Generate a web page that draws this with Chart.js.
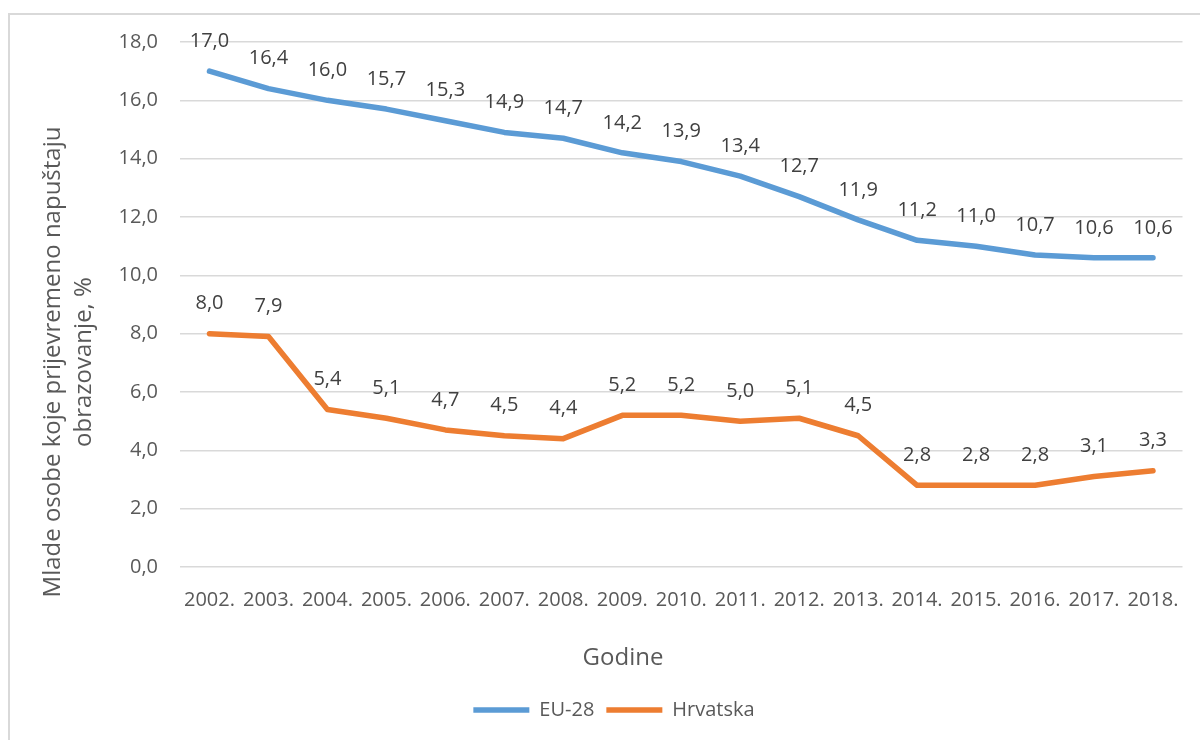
<!DOCTYPE html>
<html>
<head>
<meta charset="utf-8">
<script src="https://cdn.jsdelivr.net/npm/chart.js@4.4.1/dist/chart.umd.min.js"></script>
<style>
  html, body { margin: 0; padding: 0; background: #fff; }
  #wrap { width: 1200px; height: 740px; position: relative; }
</style>
</head>
<body>
<div id="wrap"><canvas id="chart" width="1200" height="740"></canvas></div>
<script>
// data
const years = ["2002.", "2003.", "2004.", "2005.", "2006.", "2007.", "2008.", "2009.", "2010.",
  "2011.", "2012.", "2013.", "2014.", "2015.", "2016.", "2017.", "2018."];
const eu28 = [17.0, 16.4, 16.0, 15.7, 15.3, 14.9, 14.7, 14.2, 13.9, 13.4, 12.7, 11.9, 11.2, 11.0, 10.7, 10.6, 10.6];
const hrvatska = [8.0, 7.9, 5.4, 5.1, 4.7, 4.5, 4.4, 5.2, 5.2, 5.0, 5.1, 4.5, 2.8, 2.8, 2.8, 3.1, 3.3];
const yTitleLines = ["Mlade osobe koje prijevremeno napuštaju", "obrazovanje, %"];
const xTitle = "Godine";

const FONT = '"Open Sans", "Liberation Sans", sans-serif';

function comma(v) {
  return Number(v).toFixed(1).replace(".", ",");
}

// light grey frame around the whole chart, like the Excel chart area
const framePlugin = {
  id: "frame",
  beforeDraw(chart) {
    const ctx = chart.ctx;
    ctx.save();
    ctx.fillStyle = "#ffffff";
    ctx.fillRect(0, 0, chart.width, chart.height);
    ctx.strokeStyle = "#d9d9d9";
    ctx.lineWidth = 2;
    ctx.strokeRect(9, 14, chart.width + 20, chart.height + 20);
    ctx.restore();
  }
};

// value labels above each point
const valueLabels = {
  id: "valueLabels",
  afterDatasetsDraw(chart) {
    const ctx = chart.ctx;
    ctx.save();
    ctx.font = "20px " + FONT;
    ctx.fillStyle = "#404040";
    ctx.textAlign = "center";
    ctx.textBaseline = "middle";
    chart.data.datasets.forEach((ds, i) => {
      chart.getDatasetMeta(i).data.forEach((pt, j) => {
        ctx.fillText(comma(ds.data[j]), pt.x, pt.y - 30);
      });
    });
    ctx.restore();
  }
};

// axis titles: Excel puts them off the plot centre, so they are drawn here
const axisTitles = {
  id: "axisTitles",
  afterDraw(chart) {
    const ctx = chart.ctx;
    ctx.save();
    ctx.fillStyle = "#595959";
    ctx.textAlign = "center";
    ctx.textBaseline = "alphabetic";

    ctx.font = "24px " + FONT;
    ctx.fillText(xTitle, 623, 665);

    ctx.translate(0, 362);
    ctx.rotate(-Math.PI / 2);
    ctx.fillText(yTitleLines[0], 0, 60);
    ctx.fillText(yTitleLines[1], 0, 91);
    ctx.restore();
  }
};

const ctx = document.getElementById("chart").getContext("2d");

new Chart(ctx, {
  type: "line",
  data: {
    labels: years,
    datasets: [
      {
        label: "EU-28",
        data: eu28,
        borderColor: "#5b9bd5",
        backgroundColor: "#5b9bd5",
        borderWidth: 5.5,
        borderCapStyle: "round",
        borderJoinStyle: "round",
        pointRadius: 0,
        tension: 0,
        fill: false
      },
      {
        label: "Hrvatska",
        data: hrvatska,
        borderColor: "#ed7d31",
        backgroundColor: "#ed7d31",
        borderWidth: 5.5,
        borderCapStyle: "round",
        borderJoinStyle: "round",
        pointRadius: 0,
        tension: 0,
        fill: false
      }
    ]
  },
  options: {
    responsive: false,
    animation: false,
    layout: {
      padding: { left: 45, top: 42, right: 17, bottom: 10 }
    },
    plugins: {
      legend: {
        position: "bottom",
        labels: {
          usePointStyle: true,
          pointStyle: "line",
          pointStyleWidth: 56,
          padding: 12,
          color: "#595959",
          font: { family: FONT, size: 20 }
        }
      },
      tooltip: { enabled: false }
    },
    scales: {
      x: {
        offset: true,
        grid: { display: false, drawTicks: false },
        border: { display: false },
        ticks: {
          color: "#595959",
          font: { family: FONT, size: 20 },
          padding: 21,
          maxRotation: 0,
          autoSkip: false
        },
        afterFit(scale) {
          scale.height = 121;
        }
      },
      y: {
        min: 0,
        max: 18,
        grid: { color: "#d9d9d9", lineWidth: 1.5, drawTicks: false },
        border: { display: false },
        ticks: {
          stepSize: 2,
          color: "#595959",
          font: { family: FONT, size: 20 },
          padding: 22,
          callback: v => comma(v)
        },
        afterFit(scale) {
          scale.width = 135;
        }
      }
    }
  },
  plugins: [framePlugin, valueLabels, axisTitles]
});
</script>
</body>
</html>
